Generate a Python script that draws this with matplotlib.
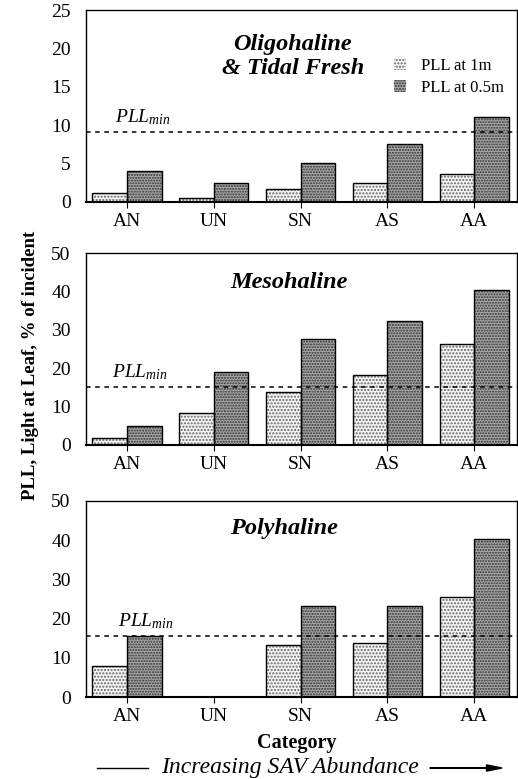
import numpy as np
import matplotlib
matplotlib.use("Agg")
import matplotlib.pyplot as plt
from matplotlib.patches import Patch, FancyArrow

plt.rcParams["font.family"] = ["Liberation Serif", "DejaVu Serif"]
plt.rcParams["mathtext.fontset"] = "custom"
plt.rcParams["mathtext.rm"] = "Liberation Serif"
plt.rcParams["mathtext.it"] = "Liberation Serif:italic"
plt.rcParams["hatch.linewidth"] = 1.0

categories = ["AN", "UN", "SN", "AS", "AA"]

oligo_1m = [1.1, 0.5, 1.6, 2.5, 3.6]
oligo_05m = [4.0, 2.5, 5.1, 7.6, 11.1]
oligo_min = 9.1

meso_1m = [1.7, 8.2, 13.9, 18.3, 26.3]
meso_05m = [5.0, 18.9, 27.7, 32.3, 40.3]
meso_min = 15.2

poly_1m = [8.0, 0.0, 13.3, 13.7, 25.4]
poly_05m = [15.5, 0.0, 23.3, 23.3, 40.4]
poly_min = 15.7

panels = [
    ("Oligohaline\n& Tidal Fresh", oligo_1m, oligo_05m, oligo_min, 25, [0, 5, 10, 15, 20, 25],
     [0.741, 0.246], (0.48, 0.76), -0.14),
    ("Mesohaline", meso_1m, meso_05m, meso_min, 50, [0, 10, 20, 30, 40, 50],
     [0.429, 0.246], (0.47, 0.845), -0.17),
    ("Polyhaline", poly_1m, poly_05m, poly_min, 50, [0, 10, 20, 30, 40, 50],
     [0.105, 0.252], (0.46, 0.86), -0.10),
]

LIGHT_FACE, LIGHT_DOT = "#f4f4f4", "#666666"
DARK_FACE, DARK_DOT = "#a8a8a8", "#303030"

fig = plt.figure(figsize=(5.18, 7.79), dpi=100)
x = np.arange(len(categories))
w = 0.4

for i, (title, v1, v2, pmin, ymax, yticks, (bot, h), tpos, px) in enumerate(panels):
    ax = fig.add_axes([0.166, bot, 0.832, h])
    # dotted fills, then black outlines
    ax.bar(x - w / 2, v1, w, color=LIGHT_FACE, edgecolor=LIGHT_DOT, hatch=".....", linewidth=0)
    ax.bar(x + w / 2, v2, w, color=DARK_FACE, edgecolor=DARK_DOT, hatch="......", linewidth=0)
    for vals, off in ((v1, -w / 2), (v2, w / 2)):
        for xi, v in zip(x, vals):
            if v > 0:
                ax.bar(xi + off, v, w, fill=False, edgecolor="black", linewidth=1.0)
    ax.axhline(pmin, color="black", linestyle=(0, (3, 3)), linewidth=1.1, zorder=5)
    ax.text(px, pmin + ymax * 0.025, r"$PLL_{min}$", fontsize=14, ha="left", va="bottom")
    ax.text(tpos[0], tpos[1], title, transform=ax.transAxes, fontsize=17.5,
            fontweight="bold", fontstyle="italic", ha="center", va="center",
            linespacing=1.2)

    ax.set_xlim(-0.47, 4.49)
    ax.set_ylim(0, ymax)
    ax.set_yticks(yticks)
    ax.set_xticks(x)
    ax.set_xticklabels(categories)
    ax.tick_params(axis="y", length=0, labelsize=14, pad=11)
    ax.tick_params(axis="x", direction="out", length=4, labelsize=14, pad=4)
    for s in ax.spines.values():
        s.set_linewidth(1.0)
    ax.spines["bottom"].set_linewidth(1.5)

    if i == 0:
        handles = [Patch(facecolor=LIGHT_FACE, edgecolor=LIGHT_DOT, hatch=".....", linewidth=0),
                   Patch(facecolor=DARK_FACE, edgecolor=DARK_DOT, hatch="......", linewidth=0)]
        ax.legend(handles, ["PLL at 1m", "PLL at 0.5m"], loc="upper left",
                  bbox_to_anchor=(0.68, 0.83), frameon=False, fontsize=12,
                  handlelength=0.7, handleheight=0.8, handletextpad=0.9,
                  labelspacing=0.35)

fig.text(0.058, 0.531, "PLL, Light at Leaf, % of incident", rotation=90,
         ha="center", va="center", fontsize=13.5, fontweight="bold")
fig.text(0.573, 0.046, "Category", ha="center", va="center", fontsize=14.5, fontweight="bold")
fig.text(0.56, 0.015, "Increasing SAV Abundance", ha="center", va="center",
         fontsize=17, fontstyle="italic")
ly = 1 - 768 / 779
fig.add_artist(plt.Line2D([97 / 518, 148 / 518], [ly, ly], color="black", linewidth=1.0))
fig.patches.append(FancyArrow(430 / 518, ly, 72 / 518, 0, width=0.0008,
                              head_width=0.008, head_length=0.03,
                              length_includes_head=True, color="black",
                              transform=fig.transFigure))

fig.savefig("out.png", dpi=100)
